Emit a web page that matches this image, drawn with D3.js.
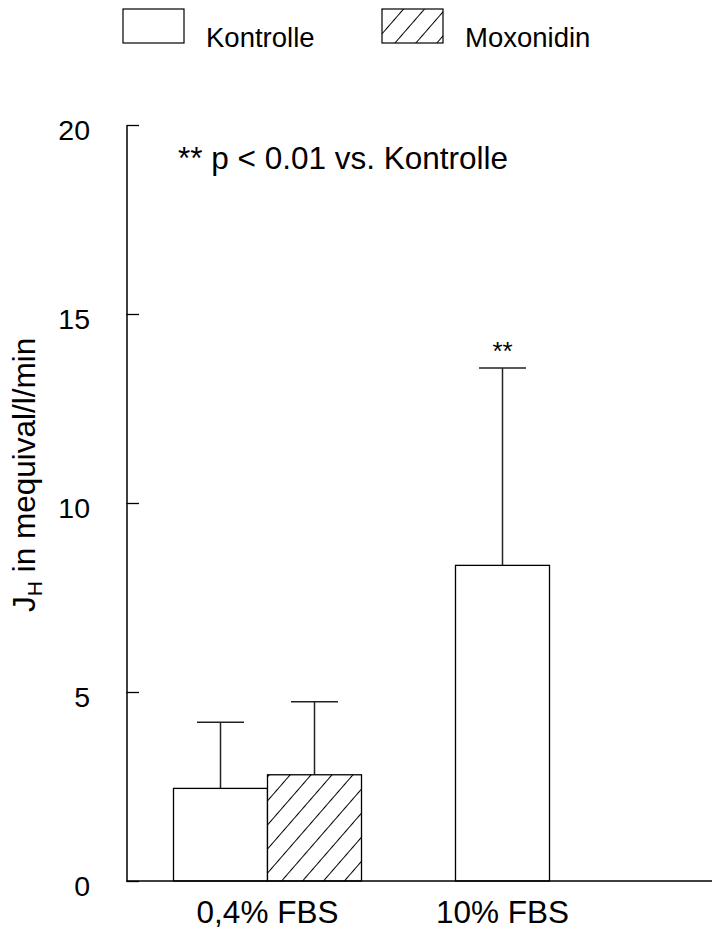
<!DOCTYPE html>
<html>
<head>
<meta charset="utf-8">
<script src="https://cdn.jsdelivr.net/npm/d3@7"></script>
<style>
  html, body { margin: 0; padding: 0; background: #fff; }
  svg { display: block; font-family: "Liberation Sans", Arial, Helvetica, sans-serif; }
</style>
</head>
<body>
<svg id="chart" width="712" height="929"></svg>
<script>
// Proton flux J_H (mequival/l/min), mean + SD
const groups = ["0,4% FBS", "10% FBS"];
const seriesNames = ["Kontrolle", "Moxonidin"];
const kontrolle = [2.45, 8.35];
const kontrolleSD = [1.75, 5.22];
const moxonidin = [2.81, null];
const moxonidinSD = [1.93, null];
const kontrolleSig = ["", "**"];
const yTicks = [0, 5, 10, 15, 20];
const noteText = "** p < 0.01 vs. Kontrolle";
const yLabelMain = "J";
const yLabelSub = "H";
const yLabelRest = " in mequival/l/min";

const W = 712, H = 929;
const svg = d3.select("#chart");

// hatch pattern for Moxonidin
const defs = svg.append("defs");
const pat = defs.append("pattern")
  .attr("id", "hatch")
  .attr("patternUnits", "userSpaceOnUse")
  .attr("width", 15.8).attr("height", 15.8)
  .attr("patternTransform", "rotate(41)");
pat.append("rect").attr("width", 15.8).attr("height", 15.8).attr("fill", "#fff");
pat.append("line").attr("x1", 0.5).attr("y1", -1).attr("x2", 0.5).attr("y2", 17)
  .attr("stroke", "#000").attr("stroke-width", 1);

const fills = { "Kontrolle": "#fff", "Moxonidin": "url(#hatch)" };

const y = d3.scaleLinear().domain([0, 20]).range([881, 125]);
const x0 = d3.scaleBand().domain(groups).range([126.5, 690.5])
  .paddingInner(1 / 3).paddingOuter(1 / 6);
const x1 = d3.scaleBand().domain(seriesNames).range([0, x0.bandwidth()]);

const rows = groups.map((g, i) => ({
  group: g,
  bars: [
    { series: "Kontrolle", value: kontrolle[i], sd: kontrolleSD[i], sig: kontrolleSig[i] },
    { series: "Moxonidin", value: moxonidin[i], sd: moxonidinSD[i], sig: "" }
  ].filter(b => b.value != null)
}));

// y axis with inward ticks
const yAxis = d3.axisRight(y).tickValues(yTicks).tickSize(12.5).tickSizeOuter(0).tickFormat("");
const gy = svg.append("g").attr("transform", "translate(126.5,0)").call(yAxis);
gy.select(".domain").attr("stroke", "#000").attr("stroke-width", 1.5);
gy.selectAll(".tick line").attr("stroke", "#000").attr("stroke-width", 1.3);

svg.append("g").selectAll("text").data(yTicks).join("text")
  .attr("x", 90).attr("y", d => y(d) + 14.5)
  .attr("text-anchor", "end")
  .attr("font-size", 28.5)
  .text(d => d);

// bars
const gBars = svg.append("g");
rows.forEach(r => {
  const gx = x0(r.group);
  r.bars.forEach(b => {
    const bx = gx + x1(b.series);
    const bw = x1.bandwidth();
    const cx = bx + bw / 2;
    // error bar
    gBars.append("line")
      .attr("x1", cx).attr("x2", cx)
      .attr("y1", y(b.value)).attr("y2", y(b.value + b.sd))
      .attr("stroke", "#222").attr("stroke-width", 1.5);
    gBars.append("line")
      .attr("x1", cx - bw / 4).attr("x2", cx + bw / 4)
      .attr("y1", y(b.value + b.sd)).attr("y2", y(b.value + b.sd))
      .attr("stroke", "#222").attr("stroke-width", 1.5);
    gBars.append("rect")
      .attr("x", bx).attr("y", y(b.value))
      .attr("width", bw).attr("height", y(0) - y(b.value))
      .attr("fill", fills[b.series])
      .attr("stroke", "#000").attr("stroke-width", 1.3);
    if (b.sig) {
      gBars.append("text")
        .attr("x", cx).attr("y", y(b.value + b.sd) - 8)
        .attr("text-anchor", "middle")
        .attr("font-size", 26)
        .text(b.sig);
    }
  });
});

// x axis baseline
svg.append("line")
  .attr("x1", x0.range()[0]).attr("x2", W)
  .attr("y1", y(0)).attr("y2", y(0))
  .attr("stroke", "#000").attr("stroke-width", 1.5);

// category labels centred under the drawn bars
svg.append("g").selectAll("text").data(rows).join("text")
  .attr("x", r => {
    const cs = r.bars.map(b => x0(r.group) + x1(b.series) + x1.bandwidth() / 2);
    return d3.mean(cs);
  })
  .attr("y", 923)
  .attr("text-anchor", "middle")
  .attr("font-size", 31.5)
  .text(r => r.group);

// significance note
svg.append("text")
  .attr("x", 178).attr("y", 169)
  .attr("font-size", 31.5)
  .text(noteText);

// y axis title
const yt = svg.append("text")
  .attr("transform", "translate(35,612) rotate(-90)")
  .attr("font-size", 31.5);
yt.append("tspan").text(yLabelMain);
yt.append("tspan").attr("font-size", 21).attr("dy", 7).text(yLabelSub);
yt.append("tspan").attr("dy", -7).text(yLabelRest);

// legend
const legendX = [123, 382];
const lg = svg.append("g").selectAll("g").data(seriesNames).join("g")
  .attr("transform", (d, i) => `translate(${legendX[i]},9)`);
lg.append("rect").attr("width", 61).attr("height", 34)
  .attr("fill", d => fills[d]).attr("stroke", "#000").attr("stroke-width", 1.2);
lg.append("text").attr("x", 83).attr("y", 38)
  .attr("font-size", 27.5)
  .text(d => d);
</script>
</body>
</html>
